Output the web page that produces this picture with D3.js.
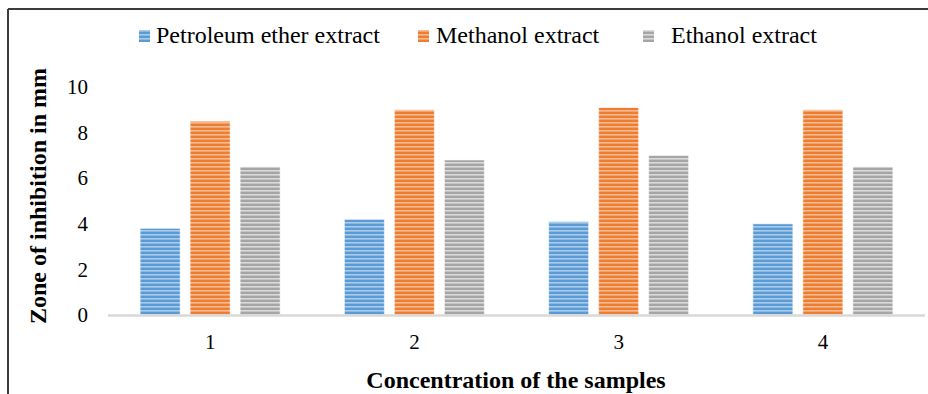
<!DOCTYPE html>
<html>
<head>
<meta charset="utf-8">
<script src="https://cdn.jsdelivr.net/npm/d3@7/dist/d3.min.js"></script>
<style>
  html, body { margin: 0; padding: 0; background: #fff; }
  svg { display: block; }
  text { font-family: "Liberation Serif", "Times New Roman", serif; fill: #000; }
</style>
</head>
<body>
<svg id="chart" width="928" height="394"></svg>
<script>
// Sample concentrations (x categories)
const categories = ["1", "2", "3", "4"];
// Extract series names
const seriesNames = ["Petroleum ether extract", "Methanol extract", "Ethanol extract"];
// Zone of inhibition (mm) per extract, one value per concentration
const petroleumEther = [3.8, 4.2, 4.1, 4.0];
const methanol = [8.5, 9.0, 9.1, 9.0];
const ethanol = [6.5, 6.8, 7.0, 6.5];
// Y axis tick values
const yTicks = [0, 2, 4, 6, 8, 10];

const seriesValues = [petroleumEther, methanol, ethanol];
const baseColors = ["#5b9bd5", "#ed7d31", "#a5a5a5"];
const stripeColors = ["#a9cbea", "#f7bb93", "#dadada"];

const svg = d3.select("#chart");

// Horizontal stripe fills for each series
const defs = svg.append("defs");
seriesNames.forEach((name, i) => {
  const p = defs.append("pattern")
    .attr("id", "stripe" + i)
    .attr("patternUnits", "userSpaceOnUse")
    .attr("width", 8).attr("height", 4);
  p.append("rect").attr("width", 8).attr("height", 4).attr("fill", baseColors[i]);
  p.append("rect").attr("y", 2).attr("width", 8).attr("height", 1.6).attr("fill", stripeColors[i]);
});

// Frame: top and left edges
svg.append("line").attr("x1", 8).attr("x2", 928).attr("y1", 9).attr("y2", 9)
  .attr("stroke", "#3c3c3c").attr("stroke-width", 2);
svg.append("line").attr("x1", 8).attr("x2", 8).attr("y1", 9).attr("y2", 394)
  .attr("stroke", "#3c3c3c").attr("stroke-width", 2);

const plotLeft = 108, plotRight = 925, plotBottom = 315, plotTop = 87;

const x0 = d3.scaleBand().domain(categories).range([plotLeft, plotRight]).padding(0);
const groupWidth = 140;
const x1 = d3.scaleBand().domain(d3.range(seriesNames.length)).range([0, groupWidth])
  .paddingInner(0.2).paddingOuter(0);
const y = d3.scaleLinear().domain([0, 10]).range([plotBottom, plotTop]);

// Y tick labels
const yAxis = d3.axisLeft(y).tickValues(yTicks).tickSize(0).tickPadding(0);
const gy = svg.append("g").attr("transform", "translate(88,0)").call(yAxis);
gy.select(".domain").remove();
gy.selectAll("text").attr("font-size", 21)
  .style("font-family", '"Liberation Serif", serif').attr("fill", "#000");

// Bars
categories.forEach((c, ci) => {
  const gx = x0(c) + (x0.bandwidth() - groupWidth) / 2;
  seriesValues.forEach((vals, si) => {
    svg.append("rect")
      .attr("x", gx + x1(si))
      .attr("y", y(vals[ci]))
      .attr("width", x1.bandwidth())
      .attr("height", y(0) - y(vals[ci]))
      .attr("fill", `url(#stripe${si})`)
      .attr("stroke", "#ffffff").attr("stroke-opacity", 0.55).attr("stroke-width", 1);
  });
});

// Category axis baseline and labels
svg.append("line").attr("x1", plotLeft).attr("x2", plotRight)
  .attr("y1", plotBottom + 0.5).attr("y2", plotBottom + 0.5)
  .attr("stroke", "#d9d9d9").attr("stroke-width", 2.5);
const xAxis = d3.axisBottom(x0).tickSize(0).tickPadding(0);
const gxAxis = svg.append("g").attr("transform", `translate(0,${plotBottom + 19})`).call(xAxis);
gxAxis.select(".domain").remove();
gxAxis.selectAll("text").attr("font-size", 21)
  .style("font-family", '"Liberation Serif", serif').attr("fill", "#000");

// Axis titles
svg.append("text")
  .attr("x", 516).attr("y", 388)
  .attr("text-anchor", "middle")
  .attr("font-size", 24).attr("font-weight", "bold")
  .text("Concentration of the samples");
svg.append("text")
  .attr("transform", "translate(46,196) rotate(-90)")
  .attr("text-anchor", "middle")
  .attr("font-size", 24).attr("font-weight", "bold")
  .text("Zone of inhibition in mm");

// Legend
const legendX = [139, 418, 643];
const legendTextX = [156, 436, 671];
seriesNames.forEach((name, i) => {
  svg.append("rect")
    .attr("x", legendX[i]).attr("y", 30)
    .attr("width", 11).attr("height", 12)
    .attr("fill", `url(#stripe${i})`);
  svg.append("text")
    .attr("x", legendTextX[i]).attr("y", 43)
    .attr("font-size", 24)
    .text(name);
});
</script>
</body>
</html>
